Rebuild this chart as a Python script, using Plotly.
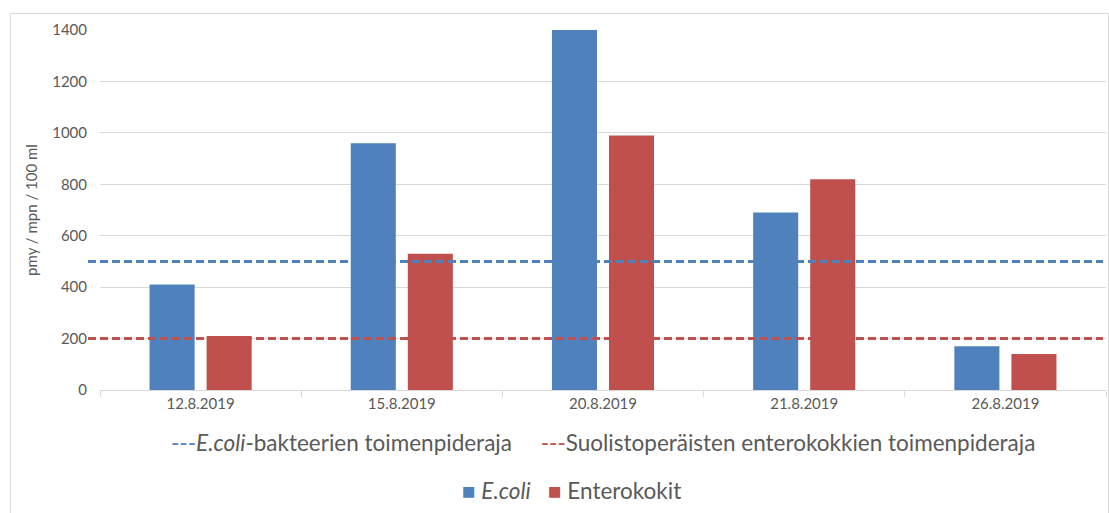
import plotly.graph_objects as go

# Sample dates and measured counts (pmy / mpn per 100 ml)
dates = ["12.8.2019", "15.8.2019", "20.8.2019", "21.8.2019", "26.8.2019"]
ecoli = [410, 960, 1400, 690, 170]
enterokokit = [210, 530, 990, 820, 140]

# Action limits
ecoli_limit = 500
entero_limit = 200

y_ticks = [0, 200, 400, 600, 800, 1000, 1200, 1400]

BLUE = "#4f81bd"
RED = "#c0504d"
TEXT = "#595959"
GRID = "#d9d9d9"
FONT = "Lato"

W, H = 1109, 513
ML, MR, MT, MB = 100, 3, 30, 123
PW = W - ML - MR
PH = H - MT - MB


def px_x(px):
    return (px - ML) / PW


def px_y(py):
    return 1 - (py - MT) / PH


fig = go.Figure()
fig.add_trace(go.Bar(x=dates, y=ecoli, name="E.coli", marker_color=BLUE,
                     marker_line_width=0))
fig.add_trace(go.Bar(x=dates, y=enterokokit, name="Enterokokit", marker_color=RED,
                     marker_line_width=0))

# Dashed action-limit lines
for val, col in [(ecoli_limit, BLUE), (entero_limit, RED)]:
    fig.add_shape(type="line", xref="paper", yref="y",
                  x0=px_x(88), x1=px_x(1103), y0=val, y1=val,
                  line=dict(color=col, width=3, dash="8px,4px"), layer="above")

# Outer chart frame
fig.add_shape(type="rect", xref="paper", yref="paper",
              x0=px_x(10.5), x1=px_x(1108.5), y0=px_y(530), y1=px_y(13.5),
              line=dict(color=GRID, width=1), layer="below")

# Legend row for the limit lines
fig.add_annotation(
    xref="paper", yref="paper", x=px_x(603), y=px_y(442), xanchor="center", yanchor="middle",
    showarrow=False, font=dict(family=FONT, size=22.5, color=TEXT),
    text=(f"<span style='color:{BLUE}'>---</span><i>E.coli</i>-bakteerien toimenpideraja"
          f"     <span style='color:{RED}'>---</span>Suolistoperäisten enterokokkien toimenpideraja"),
)

# Legend row for the bar series
fig.add_annotation(
    xref="paper", yref="paper", x=px_x(571), y=px_y(491), xanchor="center", yanchor="middle",
    showarrow=False, font=dict(family=FONT, size=22.5, color=TEXT),
    text=(f"<span style='color:{BLUE}'>■</span> <i>E.coli</i>   "
          f"<span style='color:{RED}'>■</span> Enterokokit"),
)

fig.update_layout(
    width=W, height=H,
    margin=dict(l=ML, r=MR, t=MT, b=MB),
    paper_bgcolor="white", plot_bgcolor="white",
    barmode="group", bargap=0.433, bargroupgap=0.21,
    showlegend=False,
    font=dict(family=FONT, color=TEXT, size=15),
)
fig.update_xaxes(
    showgrid=False, showline=True, linecolor=GRID, linewidth=1,
    ticks="outside", tickson="boundaries", ticklen=6, tickcolor=GRID,
    tickfont=dict(size=15, color=TEXT), fixedrange=True,
)
fig.update_yaxes(
    range=[0, 1400], tickvals=y_ticks, showgrid=True, gridcolor=GRID, gridwidth=1,
    zeroline=False, showline=False, ticks="", ticklabelstandoff=12,
    tickfont=dict(size=15, color=TEXT),
    title=dict(text="pmy / mpn / 100 ml", font=dict(size=15, color=TEXT), standoff=10),
    fixedrange=True,
)

fig.write_html("out.html")
